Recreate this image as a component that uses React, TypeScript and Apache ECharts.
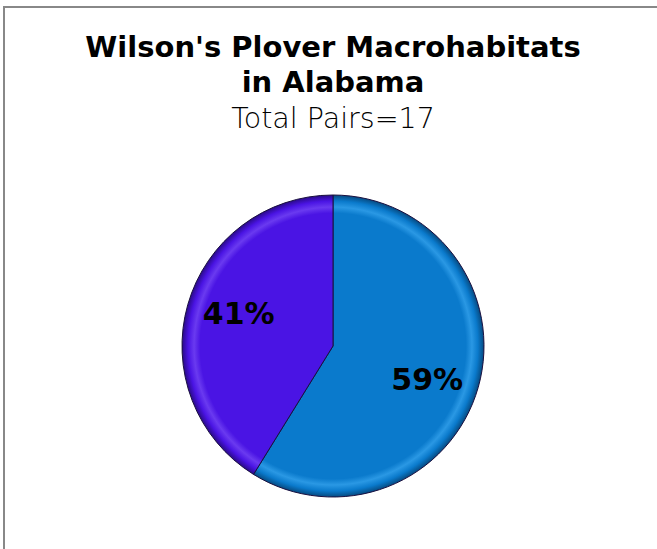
import React, { useEffect, useRef } from "react";
import * as echarts from "echarts";

const categories = ["Macrohabitat A", "Macrohabitat B"];
const pairs = [10, 7];
const sliceColors = ["#0A7ACC", "#4A14E4"];
const rimColors = ["#064a80", "#2a0a88"];
const lightColors = ["#2a98e4", "#6a3af0"];
const titleLines = ["Wilson's Plover Macrohabitats", "in Alabama"];
const subtitleText = "Total Pairs=17";

const CX = 333;
const CY = 346;
const R = 151;

export default function App() {
  const ref = useRef<HTMLDivElement>(null);
  useEffect(() => {
    if (!ref.current) return;
    const chart = echarts.init(ref.current, undefined, { renderer: "svg" });
    const grad = (i: number) => ({
      type: "radial",
      x: CX,
      y: CY,
      r: R,
      global: true,
      colorStops: [
        { offset: 0, color: sliceColors[i] },
        { offset: 0.88, color: sliceColors[i] },
        { offset: 0.92, color: lightColors[i] },
        { offset: 0.96, color: sliceColors[i] },
        { offset: 1, color: rimColors[i] },
      ],
    });
    const data = categories.map((name, i) => ({
      name,
      value: pairs[i],
      itemStyle: { color: grad(i) },
    }));
    const richKeys = ["down", "up"];
    const textStyle = (y: number, text: string, size: number, weight: any, fill: string) => ({
      type: "text",
      x: 333,
      y,
      style: {
        text,
        textAlign: "center",
        textVerticalAlign: "bottom",
        fontFamily: "DejaVu Sans",
        fontWeight: weight,
        fontSize: size,
        fill,
      },
      silent: true,
    });
    chart.setOption({
      animation: false,
      backgroundColor: "#ffffff",
      graphic: [
        {
          type: "rect",
          shape: { x: 4, y: 7, width: 700, height: 600 },
          style: { fill: "none", stroke: "#888888", lineWidth: 2 },
          silent: true,
        },
        textStyle(61, titleLines[0], 29, "bold", "#000"),
        textStyle(96, titleLines[1], 29, "bold", "#000"),
        textStyle(133, subtitleText, 28.5, 200, "#000"),
      ],
      series: [
        {
          type: "pie",
          center: [CX, CY],
          radius: [0, R],
          startAngle: 90,
          clockwise: true,
          silent: true,
          data,
          itemStyle: { borderColor: "#1a1040", borderWidth: 1 },
          label: { show: false },
          labelLine: { show: false },
        },
        {
          type: "pie",
          center: [CX, CY],
          radius: [0, 190],
          startAngle: 90,
          clockwise: true,
          silent: true,
          data: categories.map((name, i) => ({ name, value: pairs[i] })),
          itemStyle: { color: "rgba(0,0,0,0)" },
          label: {
            show: true,
            position: "inside",
            formatter: (p: any) =>
              "{" + richKeys[p.dataIndex] + "|" + Math.round(p.percent) + "%}",
            fontFamily: "DejaVu Sans",
            fontWeight: "bold",
            fontSize: 30,
            color: "#000",
            rich: {
              down: {
                fontFamily: "DejaVu Sans",
                fontWeight: "bold",
                fontSize: 30,
                color: "#000",
                padding: [14, 0, 0, 0],
              },
              up: {
                fontFamily: "DejaVu Sans",
                fontWeight: "bold",
                fontSize: 30,
                color: "#000",
                padding: [0, 0, 12, 0],
              },
            },
          },
          labelLine: { show: false },
        },
      ],
    });
    return () => chart.dispose();
  }, []);
  return (
    <div
      ref={ref}
      style={{ position: "fixed", left: 0, top: 0, width: 657, height: 549 }}
    />
  );
}
